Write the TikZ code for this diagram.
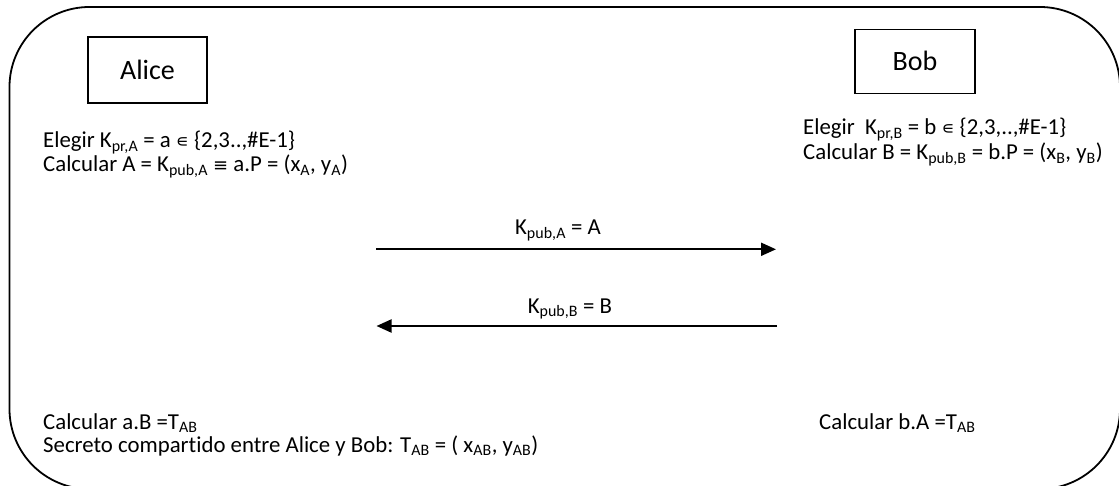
\documentclass[tikz,border=0pt]{standalone}
\usepackage{fontspec}
\setmainfont{Carlito}[Ligatures=NoCommon]
\newfontfamily\symfont{DejaVu Sans}
\usetikzlibrary{arrows.meta}
\newcommand\sbs[1]{\textsubscript{#1}}
\begin{document}
\begin{tikzpicture}[x=1pt,y=-1pt,
  txt/.style={font=\fontsize{22.8}{24}\selectfont, inner sep=0pt, anchor=base west},
  namebox/.style={draw, line width=1.5pt, font=\fontsize{28}{30}\selectfont, inner sep=0pt},
  msg/.style={line width=2pt, -{Triangle[length=15pt,width=13pt]}}]
\useasboundingbox (0,0) rectangle (1119,486);
\begin{scope}
\clip (0,0) rectangle (1119,486);
\draw[line width=1.8pt, rounded corners=80pt] (9.5,7) rectangle (1120,489);
\end{scope}
\node[namebox, minimum width=119pt, minimum height=66pt] (alice) at (147.5,70) {Alice};
\node[namebox, minimum width=120pt, minimum height=64pt] (bob) at (915,61.3) {Bob};
\node[txt] (a1) at (43,148) {Elegir K\sbs{pr,A} = a {\symfont\fontsize{18}{20}\selectfont ∊} \{2,3..,\#E-1\}};
\node[txt] (a2) at (43,172) {Calcular A = K\sbs{pub,A} {\symfont\fontsize{18}{20}\selectfont ≡} a.P = (x\sbs{A}, y\sbs{A})};
\node[txt] (b1) at (803,135) {Elegir\ \ K\sbs{pr,B} = b {\symfont\fontsize{18}{20}\selectfont ∊} \{2,3,..,\#E-1\}};
\node[txt] (b2) at (803,160) {Calcular B = K\sbs{pub,B} = b.P = (x\sbs{B}, y\sbs{B})};
\coordinate (aS) at (376,249.3);
\coordinate (aE) at (776,249.3);
\coordinate (bS) at (777,326);
\coordinate (bE) at (376.5,326);
\draw[msg] (aS) -- (aE);
\draw[msg] (bS) -- (bE);
\node[txt, anchor=base] (l1) at (558,235) {K\sbs{pub,A} = A};
\node[txt, anchor=base] (l2) at (570,313) {K\sbs{pub,B} = B};
\node[txt] (c1) at (43,429) {Calcular a.B =T\sbs{AB}};
\node[txt] (c2) at (43,452) {Secreto compartido entre Alice y Bob: T\sbs{AB} = ( x\sbs{AB}, y\sbs{AB})};
\node[txt] (d1) at (819,429) {Calcular b.A =T\sbs{AB}};
\end{tikzpicture}
\end{document}
